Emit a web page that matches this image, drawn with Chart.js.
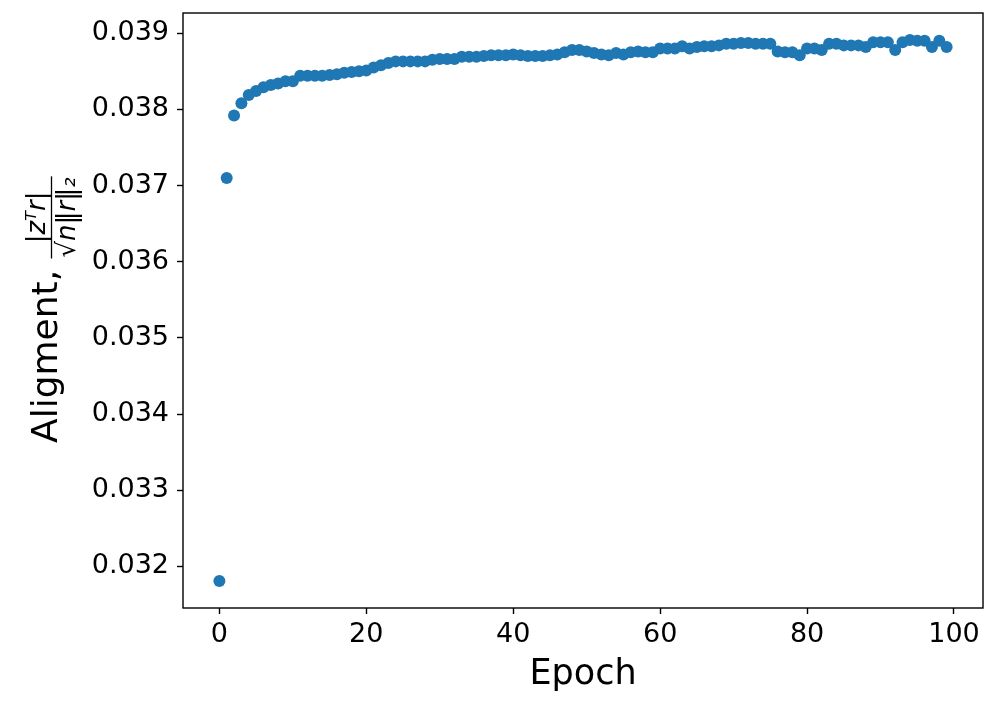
<!DOCTYPE html>
<html>
<head>
<meta charset="utf-8">
<script src="https://cdn.jsdelivr.net/npm/chart.js@4"></script>
<style>
  body { margin: 0; background: #fff; }
</style>
</head>
<body>
<canvas id="alignChart" width="996" height="704"></canvas>
<script>
// epochs and the alignment value
var epochs = [0, 1, 2, 3, 4, 5, 6, 7, 8, 9, 10, 11, 12, 13, 14, 15, 16, 17, 18, 19,
  20, 21, 22, 23, 24, 25, 26, 27, 28, 29, 30, 31, 32, 33, 34, 35, 36, 37, 38, 39,
  40, 41, 42, 43, 44, 45, 46, 47, 48, 49, 50, 51, 52, 53, 54, 55, 56, 57, 58, 59,
  60, 61, 62, 63, 64, 65, 66, 67, 68, 69, 70, 71, 72, 73, 74, 75, 76, 77, 78, 79,
  80, 81, 82, 83, 84, 85, 86, 87, 88, 89, 90, 91, 92, 93, 94, 95, 96, 97, 98, 99];

var alignment = [
  0.03181, 0.03710, 0.03792, 0.03808, 0.03819, 0.03824, 0.03829, 0.03832, 0.03834, 0.03837,
  0.03837, 0.03844, 0.03844, 0.03844, 0.03844, 0.03845, 0.03846, 0.03848, 0.03849, 0.03850,
  0.03851, 0.03855, 0.03858, 0.03861, 0.03863, 0.03863, 0.03863, 0.03863, 0.03863, 0.03865,
  0.03866, 0.03866, 0.03866, 0.03869, 0.03869, 0.03869, 0.03870, 0.03871, 0.03871, 0.03871,
  0.03872, 0.03871, 0.03870, 0.03870, 0.03870, 0.03871, 0.03872, 0.03875, 0.03878, 0.03878,
  0.03876, 0.03874, 0.03872, 0.03871, 0.03874, 0.03872, 0.03875, 0.03876, 0.03875, 0.03875,
  0.03880, 0.03880, 0.03880, 0.03883, 0.03880, 0.03882, 0.03883, 0.03883, 0.03884, 0.03886,
  0.03886, 0.03887, 0.03887, 0.03886, 0.03886, 0.03886, 0.03876, 0.03875, 0.03875, 0.03871,
  0.03880, 0.03880, 0.03878, 0.03886, 0.03886, 0.03884, 0.03884, 0.03884, 0.03882, 0.03888,
  0.03888, 0.03888, 0.03878, 0.03888, 0.03891, 0.03890, 0.03890, 0.03882, 0.03890, 0.03882
];

var xTicks = [0, 20, 40, 60, 80, 100];
var yTicks = [0.032, 0.033, 0.034, 0.035, 0.036, 0.037, 0.038, 0.039];

Chart.defaults.font.family = "'DejaVu Sans', sans-serif";
Chart.defaults.color = "#000";

var points = epochs.map(function (e, i) {
  return { x: e, y: alignment[i] };
});

// box around the plot area plus the y label with its fraction
var framePlugin = {
  id: "frame",
  afterDraw: function (chart) {
    var ctx = chart.ctx;
    var a = chart.chartArea;
    ctx.save();
    ctx.strokeStyle = "#000";
    ctx.lineWidth = 1.4;
    ctx.strokeRect(a.left, a.top, a.right - a.left, a.bottom - a.top);
    ctx.restore();

    ctx.save();
    ctx.translate(57, 443);
    ctx.rotate(-Math.PI / 2);
    ctx.fillStyle = "#000";
    ctx.textBaseline = "alphabetic";
    ctx.textAlign = "left";
    ctx.font = "36px 'DejaVu Sans'";
    var label = "Aligment, ";
    ctx.fillText(label, 0, 0);
    var start = ctx.measureText(label).width;

    ctx.font = "italic 26px 'DejaVu Sans'";
    var num = "|z\u1D40r|";
    var den = "\u221An\u2016r\u2016\u2082";
    var wNum = ctx.measureText(num).width;
    var wDen = ctx.measureText(den).width;
    var w = Math.max(wNum, wDen) + 2;
    var mid = start + w / 2;
    ctx.textAlign = "center";
    ctx.fillText(num, mid, -12);
    ctx.fillText(den, mid, 18);
    ctx.lineWidth = 1.3;
    ctx.beginPath();
    ctx.moveTo(start, -5.5);
    ctx.lineTo(start + w, -5.5);
    ctx.stroke();
    ctx.restore();
  }
};

var ctx = document.getElementById("alignChart").getContext("2d");

var alignChart = new Chart(ctx, {
  type: "scatter",
  data: {
    datasets: [{
      data: points,
      backgroundColor: "#1f77b4",
      borderWidth: 0,
      pointRadius: 6,
      pointHoverRadius: 6
    }]
  },
  options: {
    responsive: false,
    animation: false,
    layout: { padding: { top: 13, right: 13, left: 0, bottom: 0 } },
    plugins: {
      legend: { display: false },
      tooltip: { enabled: false }
    },
    scales: {
      x: {
        type: "linear",
        min: -4.95,
        max: 103.95,
        border: { display: false },
        grid: { drawOnChartArea: false, drawTicks: true, tickLength: 6, color: "#000", tickWidth: 1.4 },
        ticks: {
          padding: 5,
          font: { size: 27 },
          color: "#000",
          maxRotation: 0,
          callback: function (v) { return v; }
        },
        afterBuildTicks: function (scale) {
          scale.ticks = xTicks.map(function (v) { return { value: v }; });
        },
        afterFit: function (scale) {
          scale.height = 96;
          scale.paddingLeft = 0;
          scale.paddingRight = 0;
        },
        title: {
          display: true,
          text: "Epoch",
          font: { size: 35 },
          color: "#000",
          padding: { top: 0, bottom: 8 }
        }
      },
      y: {
        type: "linear",
        min: 0.031455,
        max: 0.039265,
        border: { display: false },
        grid: { drawOnChartArea: false, drawTicks: true, tickLength: 6, color: "#000", tickWidth: 1.4 },
        ticks: {
          padding: 8,
          font: { size: 27 },
          color: "#000",
          callback: function (v) { return v.toFixed(3); }
        },
        afterBuildTicks: function (scale) {
          scale.ticks = yTicks.map(function (v) { return { value: v }; });
        },
        afterFit: function (scale) {
          scale.width = 183;
          scale.paddingTop = 0;
          scale.paddingBottom = 0;
        }
      }
    }
  },
  plugins: [framePlugin]
});
</script>
</body>
</html>
